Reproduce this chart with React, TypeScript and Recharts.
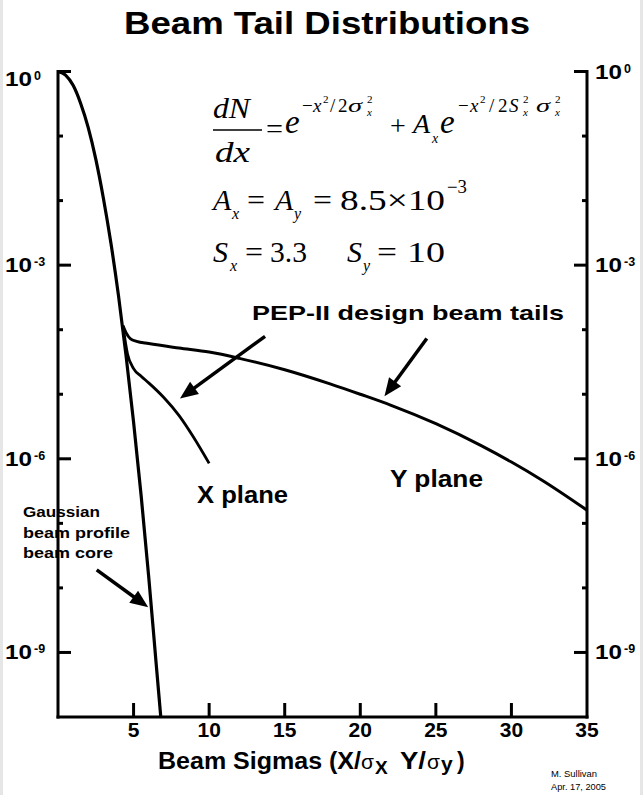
import { LineChart, Line, XAxis, YAxis, ReferenceLine } from 'recharts'

// values (log y axis, 1e-10 .. 1)
const coreX = [0, 0.5, 1, 1.5, 2, 2.5, 3, 3.5, 4, 4.5, 5, 5.5, 6, 6.5, 6.8]
const coreY = [1, 0.88, 0.61, 0.32, 0.135, 0.044, 0.011, 2.2e-3, 3.4e-4, 4e-5, 3.7e-6, 2.7e-7, 1.5e-8, 6.5e-10, 1e-10]

const xPlaneX = [4.3, 4.6, 5, 5.5, 6, 7, 8, 9, 10]
const xPlaneY = [1.15e-4, 4.2e-5, 2.5e-5, 1.9e-5, 1.5e-5, 8.9e-6, 4.7e-6, 2.1e-6, 8.5e-7]

const yPlaneX = [4.3, 4.5, 4.8, 5.2, 6, 8, 10, 12, 15, 18, 20, 22, 25, 28, 30, 32, 35]
const yPlaneY = [1.15e-4, 9e-5, 7.2e-5, 6.6e-5, 6.1e-5, 5.2e-5, 4.5e-5, 3.6e-5, 2.4e-5, 1.45e-5, 1e-5, 6.8e-6, 3.5e-6, 1.6e-6, 8.9e-7, 4.7e-7, 1.6e-7]

const xTicks = [5, 10, 15, 20, 25, 30, 35]
const yTicks = [1, 1e-1, 1e-2, 1e-3, 1e-4, 1e-5, 1e-6, 1e-7, 1e-8, 1e-9, 1e-10]

// annotation arrows, [from, to] in data units
const arrows = [
  [{ x: 13.7, y: 7.9e-5 }, { x: 8.07, y: 8.6e-6 }],
  [{ x: 24.4, y: 7.3e-5 }, { x: 21.6, y: 9.3e-6 }],
  [{ x: 2.56, y: 1.9e-8 }, { x: 5.97, y: 5e-9 }],
]

const SANS = '"Liberation Sans", Arial, sans-serif'
const SERIF = '"Liberation Serif", "Times New Roman", serif'

const rows = (xs: number[], ys: number[]) => xs.map((x, i) => ({ x, v: ys[i] }))

const expOf = (v: number) => Math.round(Math.log10(v))

function ArrowShape(p: any) {
  const { x1, y1, x2, y2 } = p
  const dx = x2 - x1
  const dy = y2 - y1
  const len = Math.hypot(dx, dy)
  const ux = dx / len
  const uy = dy / len
  const hl = 18
  const hw = 7.5
  const bx = x2 - ux * hl
  const by = y2 - uy * hl
  return (
    <g>
      <line x1={x1} y1={y1} x2={bx + ux * 3} y2={by + uy * 3} stroke="#000" strokeWidth={3.5} />
      <polygon points={`${x2},${y2} ${bx - uy * hw},${by + ux * hw} ${bx + uy * hw},${by - ux * hw}`} fill="#000" />
    </g>
  )
}

function YLabel({ x, y, e }: { x: number; y: number; e: number }) {
  return (
    <g fontFamily={SANS} fontWeight="bold" fill="#000">
      <text x={x} y={y} fontSize={21} textLength={27} lengthAdjust="spacingAndGlyphs">10</text>
      <text x={x + 29} y={y - 6} fontSize={12.5}>{e === 0 ? '0' : `-${-e}`}</text>
    </g>
  )
}

function LeftTick(p: any) {
  const { x, y, payload } = p
  const e = expOf(payload.value)
  if (e === -10) return <g />
  const major = e % 3 === 0
  return (
    <g>
      <line x1={x} x2={x + (major ? 13 : 5)} y1={y} y2={y} stroke="#000" strokeWidth={3} />
      {major && <YLabel x={5} y={y + (e === 0 ? 14.5 : 7)} e={e} />}
    </g>
  )
}

function RightTick(p: any) {
  const { x, y, payload } = p
  const e = expOf(payload.value)
  if (e === -10) return <g />
  const major = e % 3 === 0
  return (
    <g>
      <line x1={x} x2={x - (major ? 13 : 5)} y1={y} y2={y} stroke="#000" strokeWidth={3} />
      {major && <YLabel x={595} y={y + 7} e={e} />}
    </g>
  )
}

function BottomTick(p: any) {
  const { x, y, payload } = p
  return (
    <g>
      {payload.value < 35 && <line x1={x} x2={x} y1={y} y2={y - 14} stroke="#000" strokeWidth={3} />}
      <text x={x} y={737} textAnchor="middle" fontFamily={SANS} fontWeight="bold" fontSize={21} fill="#000">
        {payload.value}
      </text>
    </g>
  )
}

function TopTick(p: any) {
  const { x, y, payload } = p
  if (payload.value >= 35) return <g />
  return <line x1={x} x2={x} y1={y} y2={y + 12} stroke="#000" strokeWidth={2.5} />
}

// stacked superscript 2 / subscript x used in the exponents
function SupSub({ x, sub = 'x' }: { x: number; sub?: string }) {
  return (
    <>
      <text x={x} y={103} fontFamily={SERIF} fontSize={11}>2</text>
      <text x={x} y={116} fontFamily={SERIF} fontStyle="italic" fontSize={11}>{sub}</text>
    </>
  )
}

function Annotations() {
  const it = { fontFamily: SERIF, fontStyle: 'italic' as const }
  const up = { fontFamily: SERIF }
  return (
    <svg width={643} height={795} style={{ position: 'absolute', left: 0, top: 0, pointerEvents: 'none' }}>
      <g fill="#000">
        <text x={124} y={34} fontFamily={SANS} fontWeight="bold" fontSize={31} textLength={406} lengthAdjust="spacingAndGlyphs">
          Beam Tail Distributions
        </text>

        {/* dN/dx formula */}
        <text x={213} y={118} {...it} fontSize={29} textLength={37} lengthAdjust="spacingAndGlyphs">dN</text>
        <line x1={213} x2={262} y1={130} y2={130} stroke="#000" strokeWidth={1.5} />
        <text x={215} y={162} {...it} fontSize={29} textLength={35} lengthAdjust="spacingAndGlyphs">dx</text>
        <text x={266} y={138} {...up} fontSize={28} textLength={17} lengthAdjust="spacingAndGlyphs">=</text>
        <text x={285} y={133} {...it} fontSize={33}>e</text>
        <text x={302} y={112} {...up} fontSize={19}>−</text>
        <text x={313} y={112} {...it} fontSize={19}>x</text>
        <text x={323} y={103} {...up} fontSize={11}>2</text>
        <text x={330} y={112} {...up} fontSize={19}>/</text>
        <text x={338} y={112} {...up} fontSize={19}>2</text>
        <text x={348} y={112} {...it} fontSize={19} textLength={14} lengthAdjust="spacingAndGlyphs">σ</text>
        <SupSub x={367} />
        <text x={390} y={135} {...up} fontSize={28}>+</text>
        <text x={413} y={133} {...it} fontSize={28}>A</text>
        <text x={432} y={143} {...it} fontSize={14}>x</text>
        <text x={440} y={133} {...it} fontSize={33}>e</text>
        <text x={458} y={112} {...up} fontSize={19}>−</text>
        <text x={470} y={112} {...it} fontSize={19}>x</text>
        <text x={480} y={103} {...up} fontSize={11}>2</text>
        <text x={489} y={112} {...up} fontSize={19}>/</text>
        <text x={498} y={112} {...up} fontSize={19}>2</text>
        <text x={509} y={112} {...it} fontSize={19}>S</text>
        <SupSub x={523} />
        <text x={536} y={112} {...it} fontSize={19} textLength={14} lengthAdjust="spacingAndGlyphs">σ</text>
        <SupSub x={555} />

        {/* A_x = A_y = 8.5x10^-3 */}
        <text x={213} y={210} {...it} fontSize={30}>A</text>
        <text x={232} y={219} {...it} fontSize={16}>x</text>
        <text x={247} y={210} {...up} fontSize={30} textLength={18} lengthAdjust="spacingAndGlyphs">=</text>
        <text x={275} y={210} {...it} fontSize={30}>A</text>
        <text x={294} y={219} {...it} fontSize={16}>y</text>
        <text x={313} y={210} {...up} fontSize={30} textLength={19} lengthAdjust="spacingAndGlyphs">=</text>
        <text x={340} y={210} {...up} fontSize={30} textLength={105} lengthAdjust="spacingAndGlyphs">8.5×10</text>
        <text x={447} y={193} {...up} fontSize={18} textLength={20} lengthAdjust="spacingAndGlyphs">−3</text>

        {/* S_x = 3.3  S_y = 10 */}
        <text x={213} y={262} {...it} fontSize={30}>S</text>
        <text x={230} y={271} {...it} fontSize={16}>x</text>
        <text x={245} y={262} {...up} fontSize={30} textLength={18} lengthAdjust="spacingAndGlyphs">=</text>
        <text x={270} y={262} {...up} fontSize={30} textLength={37} lengthAdjust="spacingAndGlyphs">3.3</text>
        <text x={347} y={262} {...it} fontSize={30}>S</text>
        <text x={363} y={271} {...it} fontSize={16}>y</text>
        <text x={377} y={262} {...up} fontSize={30} textLength={20} lengthAdjust="spacingAndGlyphs">=</text>
        <text x={407} y={262} {...up} fontSize={30} textLength={38} lengthAdjust="spacingAndGlyphs">10</text>

        {/* labels */}
        <g fontFamily={SANS} fontWeight="bold">
          <text x={252} y={320} fontSize={21} textLength={312} lengthAdjust="spacingAndGlyphs">PEP-II design beam tails</text>
          <text x={197} y={503} fontSize={23} textLength={91} lengthAdjust="spacingAndGlyphs">X plane</text>
          <text x={390} y={487} fontSize={23} textLength={93} lengthAdjust="spacingAndGlyphs">Y plane</text>
          <text x={23} y={517} fontSize={15} textLength={77} lengthAdjust="spacingAndGlyphs">Gaussian</text>
          <text x={23} y={538} fontSize={15} textLength={107} lengthAdjust="spacingAndGlyphs">beam profile</text>
          <text x={23} y={558} fontSize={15} textLength={90} lengthAdjust="spacingAndGlyphs">beam core</text>

          <text x={158} y={769} fontSize={23} textLength={203} lengthAdjust="spacingAndGlyphs">Beam Sigmas (X/</text>
          <text x={361} y={769} fontSize={21} fontWeight="normal">σ</text>
          <text x={375} y={774} fontSize={19}>X</text>
          <text x={400} y={769} fontSize={23} textLength={26} lengthAdjust="spacingAndGlyphs">Y/</text>
          <text x={427} y={769} fontSize={21} fontWeight="normal">σ</text>
          <text x={441} y={771} fontSize={21}>y</text>
          <text x={457} y={769} fontSize={23}>)</text>
        </g>
        <g fontFamily={SANS} fontSize={9}>
          <text x={551} y={777} textLength={46} lengthAdjust="spacingAndGlyphs">M. Sullivan</text>
          <text x={551} y={790} textLength={55} lengthAdjust="spacingAndGlyphs">Apr. 17, 2005</text>
        </g>
      </g>
    </svg>
  )
}

export default function App() {
  const axisLine = { stroke: '#000', strokeWidth: 3, strokeLinecap: 'square' as const }
  return (
    <div style={{ position: 'relative', width: 643, height: 795, background: '#fff', overflow: 'hidden' }}>
      <style>{'body{margin:0}'}</style>
      <LineChart width={643} height={795} margin={{ top: 71.5, right: 0, bottom: 0, left: 0 }}>
        <XAxis xAxisId="b" type="number" dataKey="x" domain={[0, 35]} ticks={xTicks} interval={0}
          allowDataOverflow height={78} axisLine={axisLine} tickLine={false} tickSize={0} tickMargin={0} tick={BottomTick} />
        <XAxis xAxisId="t" orientation="top" type="number" dataKey="x" domain={[0, 35]} ticks={xTicks} interval={0}
          allowDataOverflow height={0} axisLine={axisLine} tickLine={false} tickSize={0} tickMargin={0} tick={TopTick} />
        <YAxis yAxisId="l" type="number" scale="log" domain={[1e-10, 1]} ticks={yTicks} interval={0}
          allowDataOverflow width={58} axisLine={axisLine} tickLine={false} tickSize={0} tickMargin={0} tick={LeftTick} />
        <YAxis yAxisId="r" orientation="right" type="number" scale="log" domain={[1e-10, 1]} ticks={yTicks} interval={0}
          allowDataOverflow width={56} axisLine={axisLine} tickLine={false} tickSize={0} tickMargin={0} tick={RightTick} />
        <Line xAxisId="b" yAxisId="l" data={rows(coreX, coreY)} dataKey="v" type="monotone" stroke="#000"
          strokeWidth={3.2} dot={false} isAnimationActive={false} />
        <Line xAxisId="b" yAxisId="l" data={rows(xPlaneX, xPlaneY)} dataKey="v" type="monotone" stroke="#000"
          strokeWidth={2.8} dot={false} isAnimationActive={false} />
        <Line xAxisId="b" yAxisId="l" data={rows(yPlaneX, yPlaneY)} dataKey="v" type="monotone" stroke="#000"
          strokeWidth={3} dot={false} isAnimationActive={false} />
        {arrows.map((seg, i) => (
          <ReferenceLine key={i} xAxisId="b" yAxisId="l" segment={seg} ifOverflow="visible" shape={ArrowShape} />
        ))}
      </LineChart>
      <Annotations />
      <div style={{ position: 'absolute', left: 0, top: 0, width: 3, height: 795, background: '#e6e6e6' }} />
      <div style={{ position: 'absolute', right: 0, top: 0, width: 3, height: 795, background: '#e6e6e6' }} />
    </div>
  )
}
